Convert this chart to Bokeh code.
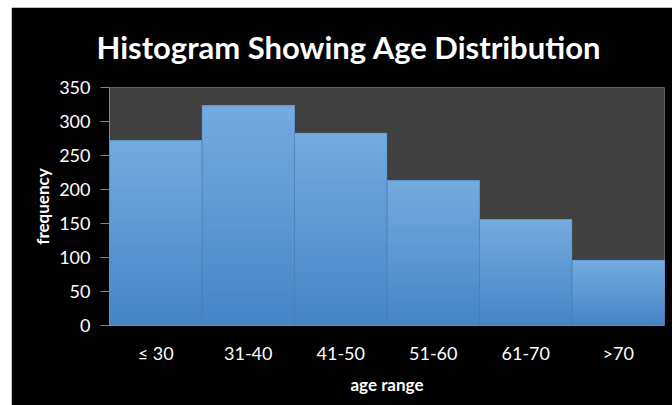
from bokeh.plotting import figure
from bokeh.models import Range1d, FactorRange, ColumnDataSource
from bokeh.embed import file_html
from bokeh.resources import INLINE

# ---- data ----
categories = ["≤ 30", "31-40", "41-50", "51-60", "61-70", ">70"]
frequency = [272, 323, 283, 213, 156, 96]
y_ticks = [0, 50, 100, 150, 200, 250, 300, 350]

title_text = "Histogram Showing Age Distribution"
x_label = "age range"
y_label = "frequency"

FONT = "Lato"

p = figure(
    x_range=FactorRange(*categories, range_padding=0),
    y_range=Range1d(0, 350),
    width=661, height=398,
    output_backend="svg", toolbar_location=None,
    margin=(7, 0, 0, 11),
    min_border_left=98, min_border_right=8,
    min_border_top=80, min_border_bottom=80,
    background_fill_color="#404040",
    border_fill_color="#000000",
    outline_line_color=None,
)

# ---- bars with a vertical gradient (lighter at top) ----
top_rgb = (0x76, 0xab, 0xdf)
bot_rgb = (0x45, 0x85, 0xc6)
n = 32
for i in range(n):
    f = i / n
    c = tuple(int(round(b + (t - b) * f)) for t, b in zip(top_rgb, bot_rgb))
    color = "#%02x%02x%02x" % c
    src = ColumnDataSource(dict(
        x=categories,
        top=frequency,
        bottom=[v * f for v in frequency],
    ))
    p.vbar(x="x", top="top", bottom="bottom", width=1.0, source=src,
           fill_color=color, line_color=None)

p.vbar(x=categories, top=frequency, width=1.0, fill_color=None,
       line_color="#4a7cb3", line_width=1, line_alpha=0.45)

# ---- title ----
p.title.text = title_text
p.title.text_color = "#ffffff"
p.title.text_font = FONT
p.title.text_font_style = "bold"
p.title.text_font_size = "31px"
p.title.align = "left"
p.title.offset = -13
p.title.vertical_align = "top"
p.title.standoff = 39

# ---- axes ----
p.xgrid.grid_line_color = None
p.ygrid.grid_line_color = None

p.yaxis.ticker = y_ticks
p.yaxis.axis_line_color = "#868686"
p.yaxis.major_tick_line_color = "#868686"
p.yaxis.major_tick_out = 9
p.yaxis.major_tick_in = 0
p.yaxis.minor_tick_line_color = None
p.yaxis.major_label_standoff = 10
p.yaxis.major_label_text_color = "#ffffff"
p.yaxis.major_label_text_font = FONT
p.yaxis.major_label_text_font_size = "18px"
p.yaxis.axis_label = y_label
p.yaxis.axis_label_text_color = "#ffffff"
p.yaxis.axis_label_text_font = FONT
p.yaxis.axis_label_text_font_style = "bold"
p.yaxis.axis_label_text_font_size = "17px"
p.yaxis.axis_label_standoff = 3

p.xaxis.axis_line_color = "#868686"
p.xaxis.major_tick_line_color = None
p.xaxis.major_tick_out = 0
p.xaxis.major_tick_in = 0
p.xaxis.minor_tick_line_color = None
p.xaxis.major_label_standoff = 16
p.xaxis.major_label_text_color = "#ffffff"
p.xaxis.major_label_text_font = FONT
p.xaxis.major_label_text_font_size = "18px"
p.xaxis.axis_label = x_label
p.xaxis.axis_label_text_color = "#ffffff"
p.xaxis.axis_label_text_font = FONT
p.xaxis.axis_label_text_font_style = "bold"
p.xaxis.axis_label_text_font_size = "17px"
p.xaxis.axis_label_standoff = 7

open("out.html", "w").write(file_html(p, INLINE))
